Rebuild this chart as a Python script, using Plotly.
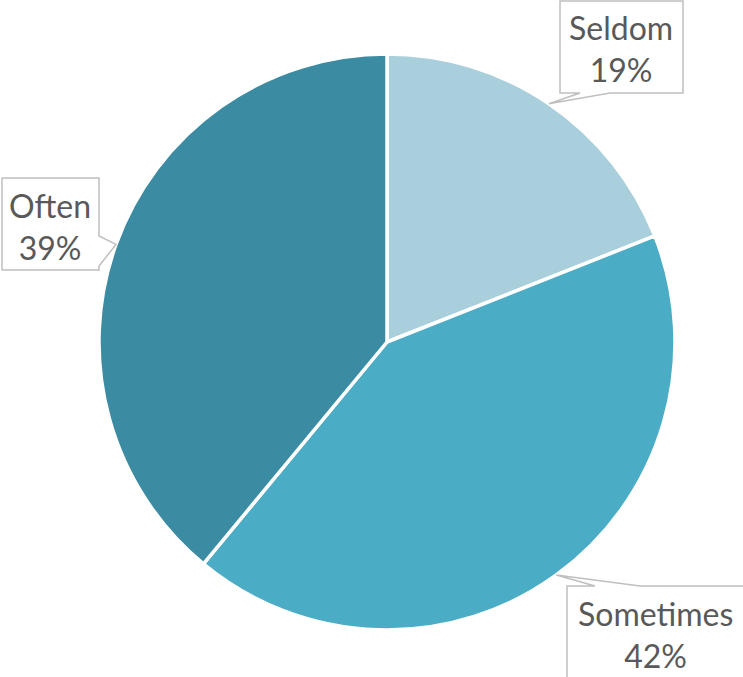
import math
import plotly.graph_objects as go

# Frequency breakdown
labels = ["Seldom", "Sometimes", "Often"]
values = [19, 42, 39]
colors = ["#A9CFDC", "#4BACC6", "#3B8CA3"]

W, H = 743, 677
CX, CY, R = 387, 342, 288  # pie centre and radius in pixels

# Callout boxes (left, top, right, bottom) and pointer base on the box edge
boxes = {
    "Seldom": dict(box=(560, 1, 683, 93), base=((580, 93), (610, 93)), text=(621, 49)),
    "Sometimes": dict(box=(567, 586, 748, 690), base=((595, 586), (640, 586)), text=(655, 634)),
    "Often": dict(box=(2, 178, 99, 270), base=((99, 236), (99, 266)), text=(50, 226)),
}


def px(x):
    return x / W


def py(y):
    return 1 - y / H


fig = go.Figure(
    go.Pie(
        labels=labels,
        values=values,
        sort=False,
        direction="clockwise",
        rotation=0,
        marker=dict(colors=colors, line=dict(color="white", width=3.5)),
        textinfo="none",
        hoverinfo="label+percent",
        domain=dict(x=[px(CX - R), px(CX + R)], y=[py(CY + R), py(CY - R)]),
        showlegend=False,
    )
)

shapes = []
annotations = []
total = sum(values)
cum = 0
for lab, val in zip(labels, values):
    mid = (cum + val / 2) / total * 2 * math.pi
    cum += val
    tip = (CX + R * math.sin(mid), CY - R * math.cos(mid))
    b = boxes[lab]
    l, t, r, btm = b["box"]
    (b1x, b1y), (b2x, b2y) = b["base"]
    # Outline walks clockwise around the box with the pointer spliced in
    if b1y == t and b2y == t:        # pointer on top edge
        pts = [(l, t), (b1x, t), tip, (b2x, t), (r, t), (r, btm), (l, btm)]
    elif b1y == btm and b2y == btm:  # pointer on bottom edge
        pts = [(l, t), (r, t), (r, btm), (b2x, btm), tip, (b1x, btm), (l, btm)]
    else:                            # pointer on right edge
        pts = [(l, t), (r, t), (r, b1y), tip, (r, b2y), (r, btm), (l, btm)]
    path = "M " + " L ".join(f"{px(x):.5f},{py(y):.5f}" for x, y in pts) + " Z"
    shapes.append(dict(type="path", xref="paper", yref="paper", path=path,
                       fillcolor="white", line=dict(color="#BFBFBF", width=1.5)))
    pct = round(val / total * 100)
    annotations.append(dict(
        xref="paper", yref="paper", x=px(b["text"][0]), y=py(b["text"][1]),
        text=f"{lab}<br>{pct}%", showarrow=False, align="center",
        xanchor="center", yanchor="middle",
        font=dict(family="Lato, Open Sans, sans-serif", size=32, color="#595959"),
    ))

fig.update_layout(
    width=W, height=H,
    margin=dict(l=0, r=0, t=0, b=0),
    paper_bgcolor="white", plot_bgcolor="white",
    shapes=shapes, annotations=annotations,
)

fig.write_html("out.html", config={"displayModeBar": False})
